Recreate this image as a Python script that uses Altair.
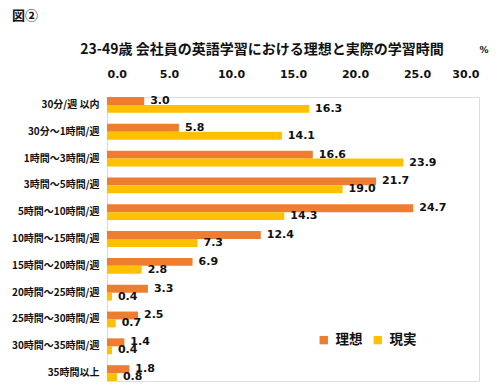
import altair as alt
import pandas as pd

categories = ["30分/週 以内", "30分～1時間/週", "1時間～3時間/週", "3時間～5時間/週",
              "5時間～10時間/週", "10時間～15時間/週", "15時間～20時間/週",
              "20時間～25時間/週", "25時間～30時間/週", "30時間～35時間/週", "35時間以上"]
ideal = [3.0, 5.8, 16.6, 21.7, 24.7, 12.4, 6.9, 3.3, 2.5, 1.4, 1.8]
actual = [16.3, 14.1, 23.9, 19.0, 14.3, 7.3, 2.8, 0.4, 0.7, 0.4, 0.8]
series = ["理想", "現実"]
colors = ["#ED7D31", "#FFC000"]
x_ticks = [0, 5, 10, 15, 20, 25, 30]

rows = []
for c, a, b in zip(categories, ideal, actual):
    rows.append({"cat": c, "series": series[0], "v": a})
    rows.append({"cat": c, "series": series[1], "v": b})
df = pd.DataFrame(rows)

FONT = "Verdana, DejaVu Sans, Noto Sans CJK JP"
JFONT = "Noto Sans CJK JP"

y_enc = alt.Y("cat:N", sort=categories,
              scale=alt.Scale(paddingInner=0.41, paddingOuter=0.0),
              axis=alt.Axis(title=None, ticks=False, labelPadding=8, labelFont=JFONT,
                            labelFontSize=10, labelFontWeight="bold", labelColor="#111",
                            domainColor="#d9d9d9", domainWidth=1))
x_enc = alt.X("v:Q", scale=alt.Scale(domain=[0, 30], nice=False),
              axis=alt.Axis(orient="top", values=x_ticks, format=".1f", title=None,
                            ticks=False, domain=False, grid=False, labelPadding=18,
                            labelFont=FONT, labelFontSize=11, labelFontWeight="bold",
                            labelColor="#111"))
yoff = alt.YOffset("series:N", sort=series)

bars = alt.Chart(df).mark_bar().encode(
    y=y_enc, x=x_enc, yOffset=yoff,
    color=alt.Color("series:N", sort=series,
                    scale=alt.Scale(domain=series, range=colors),
                    legend=alt.Legend(title=None, orient="none", legendX=210, legendY=236,
                                      direction="horizontal", symbolType="square",
                                      symbolSize=70, symbolStrokeWidth=0,
                                      labelFont=JFONT, labelFontSize=13.5, labelOffset=5,
                                      labelFontWeight="bold", columnPadding=8,
                                      labelColor="#111")),
)

labels = alt.Chart(df).mark_text(align="left", baseline="middle", dx=6, font=FONT,
                                 fontSize=11, fontWeight="bold", color="#111").encode(
    y=alt.Y("cat:N", sort=categories), x="v:Q", yOffset=yoff,
    text=alt.Text("v:Q", format=".1f"),
)

title = alt.Chart(pd.DataFrame({"t": ["23-49歳 会社員の英語学習における理想と実際の学習時間"]})).mark_text(
    font=JFONT, fontSize=14, fontWeight="bold", color="#111", align="center", baseline="middle"
).encode(x=alt.value(155), y=alt.value(-47), text="t:N")

pct = alt.Chart(pd.DataFrame({"t": ["%"]})).mark_text(
    font=FONT, fontSize=9, fontWeight="bold", color="#111", align="center", baseline="middle"
).encode(x=alt.value(377), y=alt.value(-47), text="t:N")

fig = alt.Chart(pd.DataFrame({"t": ["図②"]})).mark_text(
    font=JFONT, fontSize=13, fontWeight="bold", color="#111", align="left", baseline="middle"
).encode(x=alt.value(-95), y=alt.value(-81), text="t:N")

chart = alt.layer(bars, labels, title, pct, fig).properties(
    width=372, height=284,
    autosize=alt.AutoSizeParams(type="none"),
    padding={"left": 99, "top": 89, "right": 13, "bottom": 3},
).configure_view(stroke=None).configure(background="white")

chart.save("out.html", embed_options={"renderer": "svg", "actions": False})
